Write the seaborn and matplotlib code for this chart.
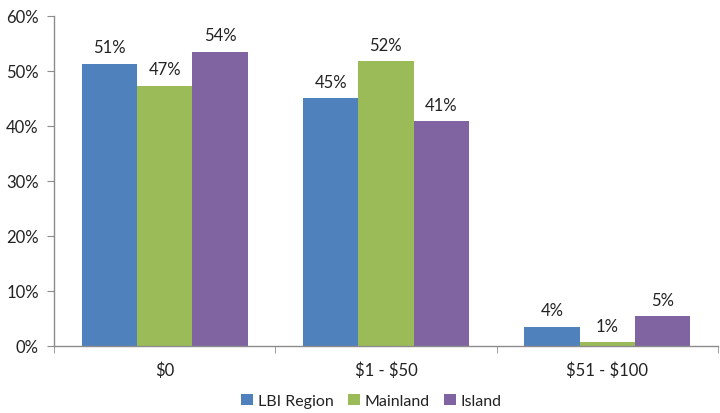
import matplotlib
matplotlib.use("Agg")
import matplotlib.pyplot as plt
import seaborn as sns
import pandas as pd
from matplotlib.ticker import FuncFormatter, MultipleLocator

categories = ["$0", "$1 - $50", "$51 - $100"]
series = ["LBI Region", "Mainland", "Island"]
lbi = [51.3, 45.1, 3.5]
mainland = [47.3, 51.8, 0.7]
island = [53.5, 40.9, 5.4]
labels = {"LBI Region": ["51%", "45%", "4%"],
          "Mainland": ["47%", "52%", "1%"],
          "Island": ["54%", "41%", "5%"]}
colors = ["#4F81BD", "#9BBB59", "#8064A2"]

rows = []
for s, vals in zip(series, [lbi, mainland, island]):
    for c, v in zip(categories, vals):
        rows.append({"cat": c, "series": s, "val": v})
df = pd.DataFrame(rows)

sns.set_style("white")
plt.rcParams["font.family"] = ["Lato", "DejaVu Sans"]

fig = plt.figure(figsize=(7.2, 4.14), dpi=100)
ax = fig.add_axes([0.075, 0.162, 0.922, 0.797])
sns.barplot(data=df, x="cat", y="val", hue="series", order=categories,
            hue_order=series, palette=colors, width=0.75, saturation=1,
            edgecolor="none", ax=ax, legend=True)

for cont, s in zip(ax.containers, series):
    ax.bar_label(cont, labels=labels[s], padding=6, fontsize=12, color="#222222")

ax.set_ylim(0, 60)
ax.set_xlim(-0.5, 2.5)
ax.yaxis.set_major_locator(MultipleLocator(10))
ax.yaxis.set_major_formatter(FuncFormatter(lambda v, p: f"{v:.0f}%"))
ax.set_xlabel("")
ax.set_ylabel("")
ax.set_xticks(range(len(categories)))
ax.set_xticklabels(categories)
for t in ax.get_xticklabels():
    t.set_parse_math(False)
for sp in ["top", "right"]:
    ax.spines[sp].set_visible(False)
for sp in ["left", "bottom"]:
    ax.spines[sp].set_color("#8c8c8c")
    ax.spines[sp].set_linewidth(1)
ax.tick_params(axis="y", left=True, length=5, color="#8c8c8c", labelsize=12,
               pad=6, labelcolor="#222222")
ax.tick_params(axis="x", bottom=False, labelsize=12, pad=8, labelcolor="#222222")
ax.set_xticks([-0.5, 0.5, 1.5, 2.5], minor=True)
ax.tick_params(axis="x", which="minor", bottom=True, length=5, color="#8c8c8c")

h, l = ax.get_legend_handles_labels()
ax.legend(h, l, loc="lower center", bbox_to_anchor=(0.478, -0.232), ncol=3,
          frameon=False, fontsize=11.5, handlelength=0.75, handleheight=0.75,
          handletextpad=0.3, columnspacing=0.9, labelcolor="#222222")

fig.savefig("out.png", dpi=100)
